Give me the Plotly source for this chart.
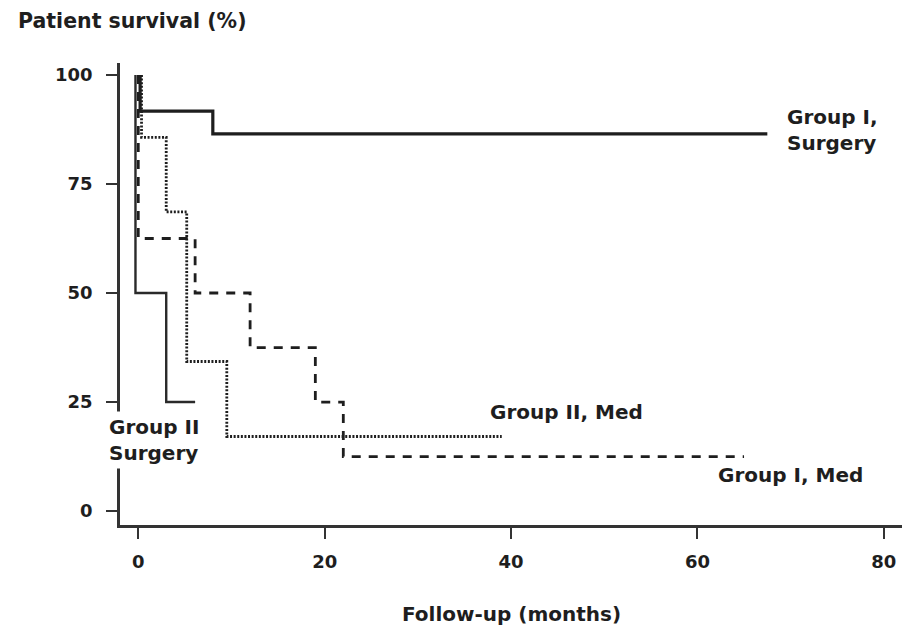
import plotly.graph_objects as go

# Kaplan-Meier step data (months, survival %)
g1_surg_x = [0.2, 0.2, 8, 8, 67.5]
g1_surg_y = [100, 91.7, 91.7, 86.5, 86.5]

g2_surg_x = [-0.3, -0.3, 3, 3, 6.1]
g2_surg_y = [100, 50, 50, 25, 25]

g1_med_x = [0, 0, 6.1, 6.1, 12, 12, 19, 19, 22, 22, 65]
g1_med_y = [100, 62.5, 62.5, 50, 50, 37.5, 37.5, 25, 25, 12.5, 12.5]

g2_med_x = [0.35, 0.35, 3, 3, 5.2, 5.2, 9.5, 9.5, 39]
g2_med_y = [100, 85.7, 85.7, 68.6, 68.6, 34.3, 34.3, 17.1, 17.1]

x_ticks = [0, 20, 40, 60, 80]
y_ticks = [0, 25, 50, 75, 100]

FONT = "DejaVu Sans"
INK = "#1e1e1e"

fig = go.Figure()
fig.add_trace(go.Scatter(x=g1_med_x, y=g1_med_y, mode="lines",
                         line=dict(color=INK, width=2.8, dash="9px,8px")))
fig.add_trace(go.Scatter(x=g2_med_x, y=g2_med_y, mode="lines",
                         line=dict(color=INK, width=2.8, dash="2px,1.6px")))
fig.add_trace(go.Scatter(x=g2_surg_x, y=g2_surg_y, mode="lines",
                         line=dict(color="#2a2a2a", width=2.4)))
fig.add_trace(go.Scatter(x=g1_surg_x, y=g1_surg_y, mode="lines",
                         line=dict(color=INK, width=3.2)))

lab_font = dict(family=FONT, size=20, color=INK, weight="bold")
fig.add_annotation(x=69.4, y=87.3, text="Group I,<br>Surgery", showarrow=False,
                   xanchor="left", yanchor="middle", align="left", font=lab_font)
fig.add_annotation(x=37.5, y=22.7, text="Group II, Med", showarrow=False,
                   xanchor="left", yanchor="middle", align="left", font=lab_font)
fig.add_annotation(x=62.0, y=8.3, text="Group I, Med", showarrow=False,
                   xanchor="left", yanchor="middle", align="left", font=lab_font)
fig.add_annotation(x=(105 - 120) / 782, xref="paper", y=(525 - 440) / 462, yref="paper",
                   text="Group II<br>Surgery", showarrow=False,
                   xanchor="left", yanchor="middle", align="left", font=lab_font,
                   bgcolor="white", borderpad=3)
fig.add_annotation(x=0.5, xref="paper", y=-(614 - 525) / 462, yref="paper",
                   text="Follow-up (months)", showarrow=False,
                   xanchor="center", yanchor="middle",
                   font=dict(family=FONT, size=20, color=INK, weight="bold"))

fig.update_layout(
    width=915, height=632,
    margin=dict(l=120, r=13, t=63, b=107),
    paper_bgcolor="white", plot_bgcolor="white",
    showlegend=False,
    title=dict(text="Patient survival (%)", x=18 / 915, xanchor="left",
               xref="container", y=1 - 21 / 632, yanchor="middle", yref="container",
               font=dict(family=FONT, size=20.5, color=INK, weight="bold")),
)
fig.update_xaxes(range=[-1.96, 81.95], tickvals=x_ticks, showgrid=False, zeroline=False,
                 showline=True, linewidth=2.5, linecolor="#333",
                 ticks="outside", ticklen=11, tickwidth=2, tickcolor="#333",
                 ticklabelstandoff=8,
                 tickfont=dict(family=FONT, size=18, color=INK, weight="bold"))
fig.update_yaxes(range=[-3.2, 102.75], tickvals=y_ticks, showgrid=False, zeroline=False,
                 showline=True, linewidth=2.5, linecolor="#333",
                 ticks="outside", ticklen=11, tickwidth=2, tickcolor="#333",
                 ticklabelstandoff=10,
                 tickfont=dict(family=FONT, size=18, color=INK, weight="bold"))

fig.write_html("out.html")
